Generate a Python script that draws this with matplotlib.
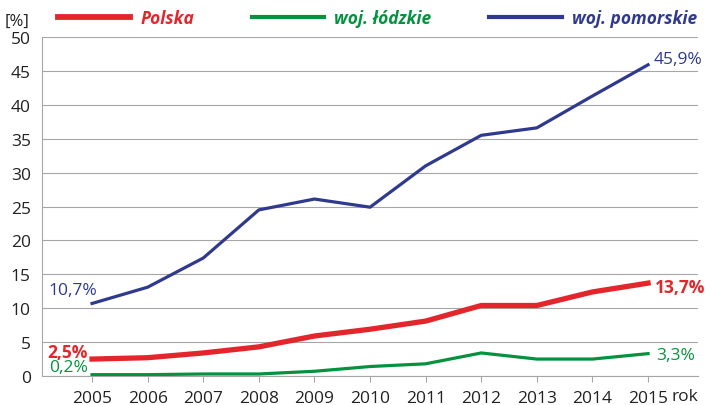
import numpy as np
import matplotlib.pyplot as plt

plt.rcParams['font.family'] = ['Open Sans', 'DejaVu Sans']

years = [2005, 2006, 2007, 2008, 2009, 2010, 2011, 2012, 2013, 2014, 2015]
polska = [2.5, 2.7, 3.4, 4.3, 5.9, 6.9, 8.1, 10.4, 10.4, 12.4, 13.7]
lodzkie = [0.2, 0.2, 0.3, 0.3, 0.7, 1.4, 1.8, 3.4, 2.5, 2.5, 3.3]
pomorskie = [10.7, 13.1, 17.4, 24.5, 26.1, 24.9, 31.0, 35.5, 36.6, 41.3, 45.9]

RED = '#e3262b'
GREEN = '#05923f'
BLUE = '#2f3a8f'

fig = plt.figure(figsize=(7.07, 4.06), dpi=100)
ax = fig.add_axes([0.0594, 0.0714, 0.928, 0.835])

ax.plot(years, pomorskie, color=BLUE, lw=2.3, label='woj. pomorskie', zorder=3)
ax.plot(years, lodzkie, color=GREEN, lw=2.3, label='woj. łódzkie', zorder=3)
ax.plot(years, polska, color=RED, lw=3.8, label='Polska', zorder=4)

ax.set_xlim(2004.1, 2015.9)
ax.set_ylim(0, 50)
ax.set_yticks(range(0, 51, 5))
ax.set_xticks(years)
ax.grid(axis='y', color='#a6a6a6', lw=0.8)
ax.set_axisbelow(True)
for s in ['top', 'right']:
    ax.spines[s].set_visible(False)
for s in ['left', 'bottom']:
    ax.spines[s].set_color('#a6a6a6')
ax.tick_params(axis='both', labelsize=12.5, colors='#222222')
ax.tick_params(axis='y', length=0, pad=8)
ax.tick_params(axis='x', length=4, color='#a6a6a6', pad=6)

fig.text(0.007, 0.937, '[%]', fontsize=12, color='#222222')
ax.text(2015.42, -2.95, 'rok', fontsize=12.5, color='#222222', va='center')

# etykiety wartości
ax.text(2005.1, pomorskie[0] + 0.8, '10,7%', color=BLUE, fontsize=12.5,
        ha='right', va='bottom')
ax.text(2015.1, pomorskie[-1] + 0.8, '45,9%', color=BLUE, fontsize=12.5,
        ha='left', va='center')
ax.text(2015.12, 13.2, '13,7%', color=RED, fontsize=12.5,
        fontweight='bold', ha='left', va='center')
ax.text(2004.93, 3.6, '2,5%', color=RED, fontsize=12.5,
        fontweight='bold', ha='right', va='center')
ax.text(2004.93, 1.3, '0,2%', color=GREEN, fontsize=12.5,
        ha='right', va='center')
ax.text(2015.15, 3.1, '3,3%', color=GREEN, fontsize=12.5,
        ha='left', va='center')

handles, labels = ax.get_legend_handles_labels()
order = [2, 1, 0]
leg = fig.legend([handles[i] for i in order], [labels[i] for i in order],
                 loc='center left', bbox_to_anchor=(0.0593, 0.952), ncol=3,
                 frameon=False, handlelength=4.2, columnspacing=3.3,
                 handletextpad=0.57, prop={'size': 12.5, 'style': 'italic',
                                           'weight': 'bold'})
for t, h in zip(leg.get_texts(), [RED, GREEN, BLUE]):
    t.set_color(h)
for lh, w in zip(leg.get_lines(), [4.2, 3.0, 3.0]):
    lh.set_linewidth(w)

fig.savefig('out.png', dpi=100)
